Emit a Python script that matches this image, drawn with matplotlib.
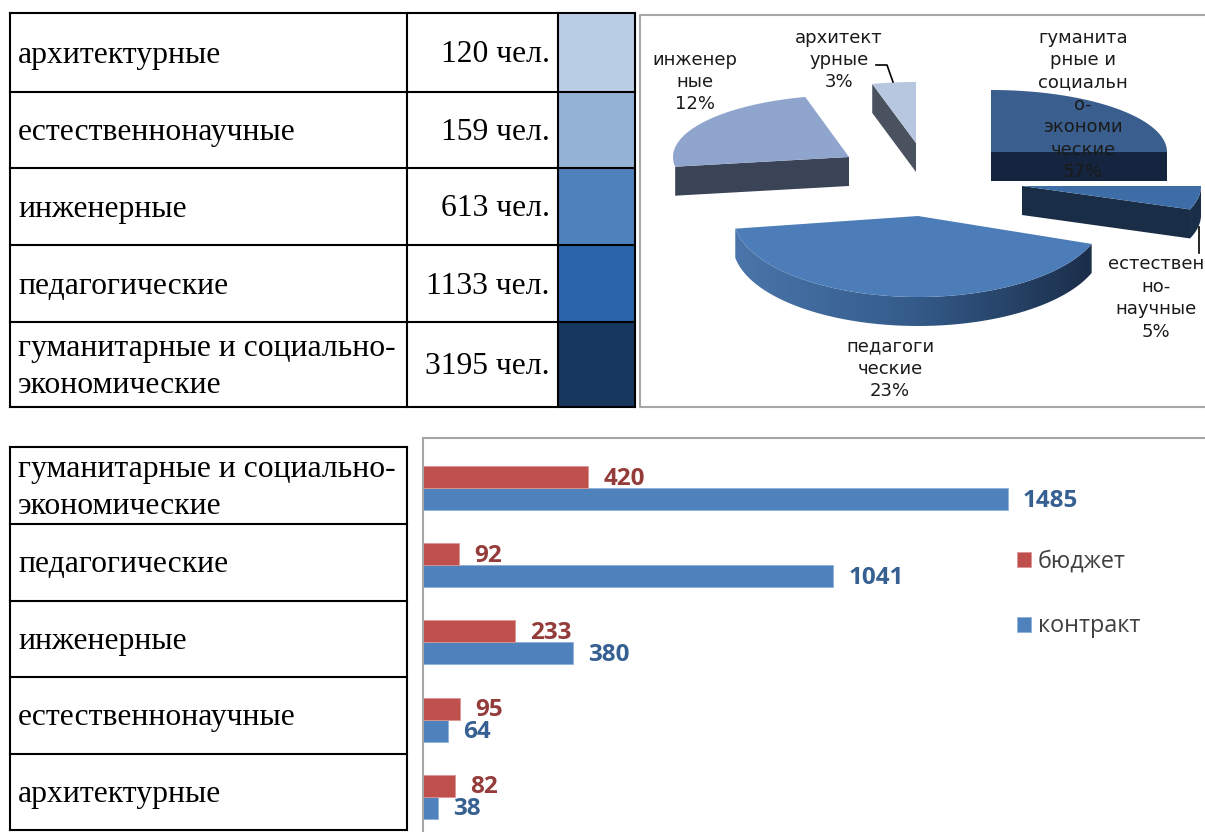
import numpy as np
import matplotlib
matplotlib.use('Agg')
import matplotlib.pyplot as plt
from matplotlib.colors import LinearSegmentedColormap
from matplotlib.patches import Polygon, Rectangle

# верхняя таблица
top_names = ['архитектурные', 'естественнонаучные', 'инженерные', 'педагогические',
             'гуманитарные и социально-\nэкономические']
top_counts = [120, 159, 613, 1133, 3195]
top_colors = ['#B9CDE5', '#95B3D7', '#4F81BD', '#2A65AB', '#17375E']

# нижняя таблица и столбцы
bar_names = ['гуманитарные и социально-\nэкономические', 'педагогические', 'инженерные',
             'естественнонаучные', 'архитектурные']
budget = [420, 92, 233, 95, 82]
contract = [1485, 1041, 380, 64, 38]

# круговая: доли секторов как они нарисованы и подписи
pie_labels = ['гуманита\nрные и\nсоциальн\nо-\nэкономи\nческие\n57%',
              'естествен\nно-\nнаучные\n5%',
              'педагоги\nческие\n23%',
              'инженер\nные\n12%',
              'архитект\nурные\n3%']
pie_drawn = [25.0, 5.6, 41.9, 23.5, 4.0]

W, H = 1205, 832
fig = plt.figure(figsize=(W / 100, H / 100), dpi=100)
ax = fig.add_axes([0, 0, 1, 1])
ax.set_xlim(0, W)
ax.set_ylim(H, 0)
ax.axis('off')

serif = 'Liberation Serif'
table_fs = 22.8
line_w = 1.5


def grid(xs, ys):
    for x in xs:
        ax.plot([x, x], [ys[0], ys[-1]], color='black', lw=line_w, solid_capstyle='projecting', zorder=5)
    for y in ys:
        ax.plot([xs[0], xs[-1]], [y, y], color='black', lw=line_w, solid_capstyle='projecting', zorder=5)


top_rows = [13, 92, 168, 245, 322, 407]
for i, name in enumerate(top_names):
    y0, y1 = top_rows[i], top_rows[i + 1]
    mid = (y0 + y1) / 2 + 2.5
    ax.text(18, mid, name, family=serif, fontsize=table_fs, va='center', ha='left', linespacing=1.33)
    ax.text(550, mid, f'{top_counts[i]} чел.', family=serif, fontsize=table_fs, va='center', ha='right')
    ax.add_patch(Rectangle((558, y0), 77, y1 - y0, facecolor=top_colors[i], edgecolor='none', zorder=1))
grid([10, 407, 558, 635], top_rows)

bottom_rows = [447, 524, 601, 677, 754, 830]
for i, name in enumerate(bar_names):
    mid = (bottom_rows[i] + bottom_rows[i + 1]) / 2 + 2.5
    ax.text(18, mid, name, family=serif, fontsize=table_fs, va='center', ha='left', linespacing=1.33)
grid([10, 407], bottom_rows)

# рамка круговой
ax.plot([1205, 640, 640, 1205], [15, 15, 407, 407], color='#A6A6A6', lw=1.5)

# секторы: центр и радиусы подобраны под перспективу
slice_style = [
    dict(c=(991, 152), rx=176, ry=62, top='#3A5F8E', side='#15253F', edge=-1),
    dict(c=(1022, 186), rx=179, ry=68, top='#3D6DA6', side='#1A2D47', edge=-1),
    dict(c=(918, 216), rx=185, ry=81, top='#4C7DB9', side=None, edge=None),
    dict(c=(849, 157), rx=176, ry=62, top='#8FA5CE', side='#3A4456', edge=0),
    dict(c=(916, 143), rx=176, ry=61, top='#B8C7E0', side='#4A5260', edge=0),
]
depth = 29
edges = 90 - np.cumsum([0] + pie_drawn) * 3.6


def arc(st, a0, a1, n=80):
    t = np.radians(np.linspace(a0, a1, n))
    cx, cy = st['c']
    return np.column_stack([cx + st['rx'] * np.cos(t), cy - st['ry'] * np.sin(t)])


for i, st in enumerate(slice_style):
    pts = arc(st, edges[i], edges[i + 1])
    apex = np.array(st['c'], dtype=float)
    down = np.array([0, depth])
    if st['side'] is None:
        # передняя дуга с градиентом
        side = np.vstack([pts, (pts + down)[::-1]])
        grad = LinearSegmentedColormap.from_list('side', ['#4A76AB', '#345B8A', '#1B2E4A'])
        im = ax.imshow(np.linspace(0, 1, 256).reshape(1, -1), cmap=grad, aspect='auto',
                       extent=(pts[:, 0].min(), pts[:, 0].max(), pts[:, 1].max() + depth, pts[:, 1].min()),
                       zorder=2)
        im.set_clip_path(Polygon(side, closed=True, transform=ax.transData))
    else:
        edge = np.vstack([apex, pts[st['edge']]])
        ax.add_patch(Polygon(np.vstack([edge, (edge + down)[::-1]]), facecolor=st['side'], edgecolor='none', zorder=2))
        if i == 1:
            ax.add_patch(Polygon(np.vstack([pts, (pts + down)[::-1]]), facecolor=st['side'], edgecolor='none', zorder=2))
    ax.add_patch(Polygon(np.vstack([apex, pts]), facecolor=st['top'], edgecolor='none', zorder=3))
ax.set_xlim(0, W)
ax.set_ylim(H, 0)

label_pos = [(1083, 105), (1156, 298), (890, 369), (695, 82), (839, 60)]
for text, (x, y) in zip(pie_labels, label_pos):
    ax.text(x, y, text, family='DejaVu Sans', fontsize=13, color='#1A1A1A', ha='center', va='center',
            linespacing=1.31, zorder=6)
ax.plot([876, 887, 893], [65, 65, 82], color='black', lw=1.2, zorder=6)
ax.plot([1199, 1199], [227, 253], color='black', lw=1.2, zorder=6)

# столбцы
left, top = 423, 438
bx = fig.add_axes([left / W, 0, (W - left) / W, (H - top) / H])
scale = 0.394
bx.set_xlim(0, (W - left) / scale)
bx.set_ylim(4.456, -0.648)
y = np.arange(len(bar_names))
h = 0.285
blue_bars = bx.barh(y + h / 2, contract, h, color='#4F81BD', edgecolor='#8DB0DA', lw=0.6, label='контракт')
red_bars = bx.barh(y - h / 2, budget, h, color='#C0504D', edgecolor='#DA9694', lw=0.6, label='бюджет')
for bars, vals, col in [(red_bars, budget, '#943C3A'), (blue_bars, contract, '#376092')]:
    for b, v in zip(bars, vals):
        bx.annotate(str(v), (v, b.get_y() + b.get_height() / 2), xytext=(10.8, -1.2), textcoords='offset points',
                    family='Open Sans', fontweight='bold', fontsize=17.5, color=col, va='center', ha='left')
bx.set_xticks([])
bx.set_yticks([])
for s in ['right', 'bottom']:
    bx.spines[s].set_visible(False)
for s in ['top', 'left']:
    bx.spines[s].set_color('#A6A6A6')
    bx.spines[s].set_linewidth(1.5)
leg = bx.legend(handles=[red_bars, blue_bars], loc='upper left', bbox_to_anchor=(0.7325, 0.77),
                frameon=False, handlelength=0.6, handleheight=0.6, handletextpad=0.3, labelspacing=1.75,
                prop=dict(family='Open Sans', size=16.8), labelcolor='#404040')

fig.savefig('out.png', dpi=100)
